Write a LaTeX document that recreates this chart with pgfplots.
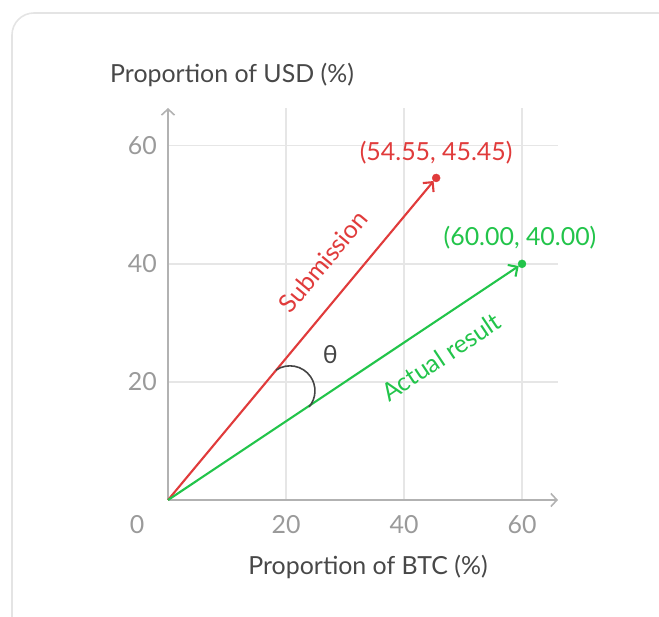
\documentclass[border=0pt]{standalone}
\usepackage{pgfplots}
\pgfplotsset{compat=1.18}
\usepackage{fontspec}
\setmainfont{Lato}
\usetikzlibrary{arrows.meta}

\definecolor{cardc}{HTML}{E4E4E4}
\definecolor{gridc}{HTML}{E6E6E6}
\definecolor{axisc}{HTML}{B2B2B2}
\definecolor{tickc}{HTML}{9A9A9A}
\definecolor{labelc}{HTML}{484848}
\definecolor{redc}{HTML}{E03B3B}
\definecolor{greenc}{HTML}{22C44A}
\definecolor{arcc}{HTML}{444444}

\newcommand{\chartfont}{\fontsize{25}{29}\selectfont}

\begin{document}
\begin{tikzpicture}[x=1bp,y=1bp]
\useasboundingbox (0,0) rectangle (659,617);
% card behind the chart
\begin{scope}
\clip (0,0) rectangle (659,617);
\draw[cardc, line width=1.6bp, rounded corners=22bp] (12,-40) rectangle (680,604);
\end{scope}

\node[anchor=west, text=labelc, font=\chartfont, inner sep=0] at (110,542) {Proportion of USD (\%)};
\node[text=labelc, font=\chartfont, inner sep=0] at (368,50) {Proportion of BTC (\%)};
\node[text=tickc, font=\chartfont, inner sep=0] at (137,92) {0};

\begin{axis}[
    at={(168bp,117bp)}, anchor=south west,
    scale only axis, width=390bp, height=392bp,
    xmin=0, xmax=66.1, ymin=0, ymax=66.4,
    axis lines=left,
    axis line style={draw=axisc, line width=1.6bp, -{Straight Barb[length=6bp, width=13bp]}},
    xtick={20,40,60}, ytick={20,40,60},
    major tick length=0pt,
    grid=major,
    major grid style={draw=gridc, line width=1.4bp},
    tick label style={text=tickc, font=\chartfont, inner sep=0pt},
    xticklabel style={anchor=center, yshift=-25bp},
    yticklabel style={anchor=east, xshift=-11bp},
    /pgf/number format/assume math mode=true,
    clip=false,
]
% submission vector
\addplot[redc, line width=2.1bp, -{Straight Barb[length=7bp, width=14bp]}, shorten >=4bp]
    coordinates {(0,0) (45.45,54.55)}
    node[pos=1, anchor=center, yshift=25bp, text=redc, font=\chartfont] {(54.55, 45.45)};
\addplot[only marks, mark=*, mark size=4bp, redc] coordinates {(45.45,54.55)};
% actual result vector
\addplot[greenc, line width=2.1bp, -{Straight Barb[length=7bp, width=14bp]}, shorten >=4bp]
    coordinates {(0,0) (60,40)}
    node[pos=1, anchor=center, xshift=-2bp, yshift=26bp, text=greenc, font=\chartfont] {(60.00, 40.00)};
\addplot[only marks, mark=*, mark size=4bp, greenc] coordinates {(60,40)};

\node[rotate=50.2, text=redc, font=\chartfont] at (axis cs:26.3,40.4) {Submission};
\node[rotate=33.7, text=greenc, font=\chartfont] at (axis cs:46.3,24.2) {Actual result};
\node[text=arcc, font=\chartfont] at (axis cs:27.5,24.6) {θ};
\draw[arcc, line width=1.6bp] (axis cs:18.3,22.0) arc[start angle=124, end angle=-40, radius=25bp];
\end{axis}
\end{tikzpicture}
\end{document}
